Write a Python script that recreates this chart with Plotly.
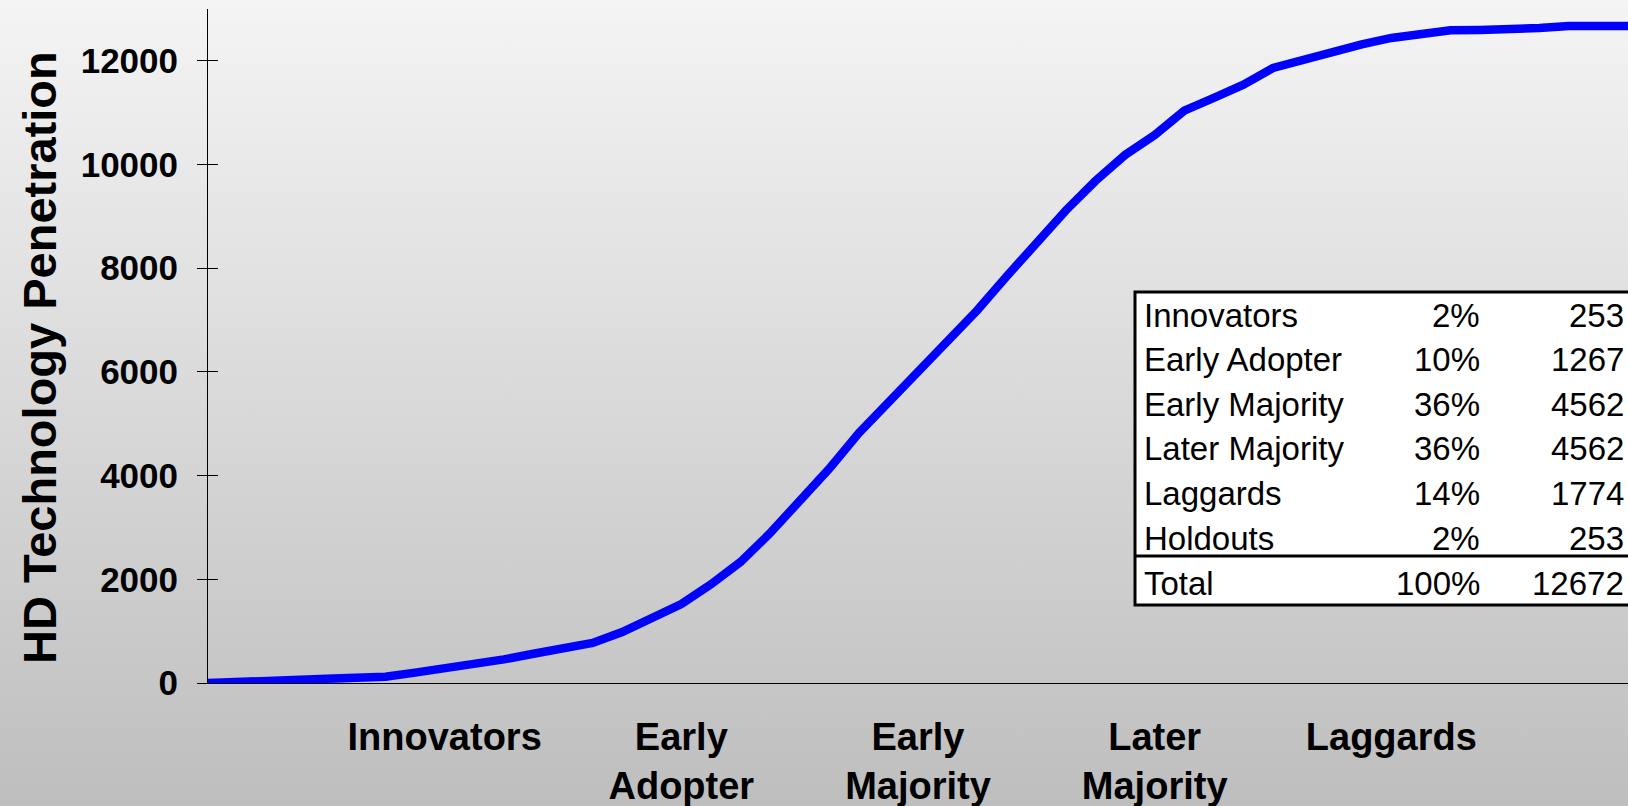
import base64
import plotly.graph_objects as go

# ---------------- data ----------------
step = list(range(49))
penetration = [0, 30, 60, 65, 80, 100, 120, 200, 280, 374, 455, 564, 663, 772, 984,
               1244, 1524, 1904, 2334, 2890, 3505, 4134, 4819, 5405, 6007, 6597, 7188,
               7845, 8484, 9117, 9684, 10185, 10567, 11040, 11285, 11540, 11863, 12021,
               12185, 12317, 12442, 12515, 12589, 12596, 12596, 12633, 12672, 12672, 12672]

cat_tickvals = [8, 16, 24, 32, 40]
cat_ticktext = ["Innovators", "Early<br>Adopter", "Early<br>Majority", "Later<br>Majority", "Laggards"]

y_tickvals = [0, 2000, 4000, 6000, 8000, 10000, 12000]
y_ticktext = ["0", "2000", "4000", "6000", "8000", "10000", "12000"]

table_groups = ["Innovators", "Early Adopter", "Early Majority", "Later Majority", "Laggards", "Holdouts"]
table_pct = ["2%", "10%", "36%", "36%", "14%", "2%"]
table_count = ["253", "1267", "4562", "4562", "1774", "253"]
total_label = "Total"
total_pct = "100%"
total_count = "12672"

# ---------------- geometry ----------------
W, H = 1628, 806
L, R, T, B = 208, 0, 9, 123
PW = W - L - R
PH = H - T - B


def px(x):
    return (x - L) / PW


def py(y):
    return (H - B - y) / PH


FONT = "Liberation Sans, Arial, sans-serif"

fig = go.Figure()
fig.add_trace(go.Scatter(x=step, y=penetration, mode="lines",
                         line=dict(color="#0000ff", width=8.5),
                         hoverinfo="skip", showlegend=False))
# dummy trace for inner-tick axis
fig.add_trace(go.Scatter(x=[None], y=[None], yaxis="y2", showlegend=False, hoverinfo="skip"))

# gradient background
svg = ('<svg xmlns="http://www.w3.org/2000/svg" width="100" height="100" preserveAspectRatio="none">'
       '<defs><linearGradient id="g" x1="0" y1="0" x2="0" y2="1">'
       '<stop offset="0" stop-color="#f4f4f4"/><stop offset="1" stop-color="#bebebe"/>'
       '</linearGradient></defs><rect width="100" height="100" fill="url(#g)"/></svg>')
src = "data:image/svg+xml;base64," + base64.b64encode(svg.encode()).decode()

shapes = [
    dict(type="rect", xref="paper", yref="paper",
         x0=px(1135), x1=px(1660), y0=py(605), y1=py(292),
         fillcolor="white", line=dict(color="black", width=3), layer="above"),
    dict(type="line", xref="paper", yref="paper",
         x0=px(1135), x1=px(1660), y0=py(556), y1=py(556),
         line=dict(color="black", width=3), layer="above"),
]

annotations = []
row_y = [315 + 44.6 * k for k in range(len(table_groups))]
tfont = dict(family=FONT, size=33, color="black")
for i, (g, p, c) in enumerate(zip(table_groups, table_pct, table_count)):
    annotations.append(dict(xref="paper", yref="paper", x=px(1142), y=py(row_y[i]), text=g,
                            showarrow=False, xanchor="left", yanchor="middle", font=tfont))
    annotations.append(dict(xref="paper", yref="paper", x=px(1482), y=py(row_y[i]), text=p,
                            showarrow=False, xanchor="right", yanchor="middle", font=tfont))
    annotations.append(dict(xref="paper", yref="paper", x=px(1626), y=py(row_y[i]), text=c,
                            showarrow=False, xanchor="right", yanchor="middle", font=tfont))
for xx, txt, anc in [(1142, total_label, "left"), (1482, total_pct, "right"), (1626, total_count, "right")]:
    annotations.append(dict(xref="paper", yref="paper", x=px(xx), y=py(583), text=txt,
                            showarrow=False, xanchor=anc, yanchor="middle", font=tfont))

annotations.append(dict(xref="paper", yref="paper", x=px(40), y=py(358),
                        text="HD Technology Penetration", textangle=-90, showarrow=False,
                        xanchor="center", yanchor="middle",
                        font=dict(family=FONT, size=47, color="black", weight="bold")))

fig.update_layout(
    width=W, height=H,
    margin=dict(l=L, r=R, t=T, b=B, pad=0),
    paper_bgcolor="rgba(0,0,0,0)", plot_bgcolor="rgba(0,0,0,0)",
    images=[dict(source=src, xref="paper", yref="paper", x=px(0), y=py(0),
                 sizex=W / PW, sizey=H / PH, xanchor="left", yanchor="top",
                 sizing="stretch", layer="below")],
    xaxis=dict(range=[0, 48], showgrid=False, zeroline=False, showline=True,
               linecolor="black", linewidth=1, ticks="",
               tickmode="array", tickvals=cat_tickvals, ticktext=cat_ticktext,
               tickfont=dict(family=FONT, size=38, color="black", weight="bold"),
               ticklabelstandoff=20),
    yaxis=dict(range=[0, 13000], showgrid=False, zeroline=False, showline=True,
               linecolor="black", linewidth=1, ticks="outside", ticklen=10,
               tickcolor="black", tickwidth=1,
               tickmode="array", tickvals=y_tickvals, ticktext=y_ticktext,
               tickfont=dict(family=FONT, size=35, color="black", weight="bold"),
               ticklabelstandoff=12),
    yaxis2=dict(range=[0, 13000], overlaying="y", side="left", showgrid=False,
                zeroline=False, showline=False, ticks="inside", ticklen=10,
                tickcolor="black", tickwidth=1, tickmode="array", tickvals=y_tickvals,
                showticklabels=False),
    shapes=shapes,
    annotations=annotations,
    showlegend=False,
)

fig.write_html("out.html", config={"displayModeBar": False},
               post_script="document.body.style.margin='0';document.body.style.overflow='hidden';")
